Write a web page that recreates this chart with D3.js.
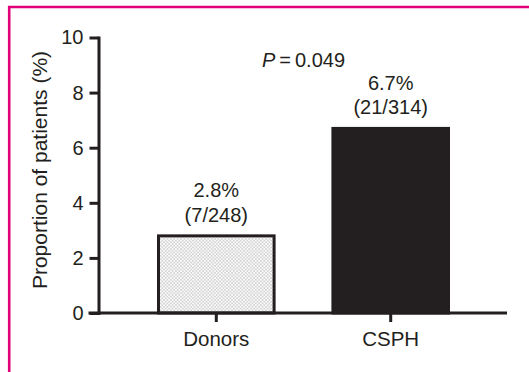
<!DOCTYPE html>
<html>
<head>
<meta charset="utf-8">
<script src="https://cdn.jsdelivr.net/npm/d3@7"></script>
<style>
  html, body { margin: 0; padding: 0; background: #fff; }
  svg { display: block; }
  text { font-family: "Liberation Sans", Arial, Helvetica, sans-serif; fill: #231f20; }
</style>
</head>
<body>
<svg id="chart" width="529" height="372"></svg>
<script>
// Patients with the outcome, by group
const categories = ["Donors", "CSPH"];
const percentValues = [2.8, 6.7];
const countLabels = ["(7/248)", "(21/314)"];
const yTickValues = [0, 2, 4, 6, 8, 10];
const pValueText = "0.049";

const W = 529, H = 372;
const ink = "#231f20";
const svg = d3.select("#chart");

// Frame lines (top and left)
svg.append("path")
  .attr("d", `M9.2,${H} V7 H${W}`)
  .attr("fill", "none")
  .attr("stroke", "#e2007a")
  .attr("stroke-width", 2.6);

// Dotted fill for the donor bar
const defs = svg.append("defs");
const pat = defs.append("pattern")
  .attr("id", "dots")
  .attr("patternUnits", "userSpaceOnUse")
  .attr("width", 3.4).attr("height", 3.4);
pat.append("rect").attr("width", 3.4).attr("height", 3.4).attr("fill", "#fbfbfb");
pat.append("circle").attr("cx", 0.85).attr("cy", 0.85).attr("r", 0.7).attr("fill", "#a4a4a4");
pat.append("circle").attr("cx", 2.55).attr("cy", 2.55).attr("r", 0.7).attr("fill", "#a4a4a4");

// Scales
const y = d3.scaleLinear().domain([0, 10]).range([313, 37.5]);
const x = d3.scaleBand().domain(categories).range([157, 450]).paddingInner(0.32).paddingOuter(0);
const axisX = 98.5;

// Bars
svg.selectAll("rect.bar")
  .data(categories)
  .join("rect")
  .attr("class", "bar")
  .attr("x", d => x(d) + 1.5)
  .attr("width", x.bandwidth() - 3)
  .attr("y", (d, i) => y(percentValues[i]))
  .attr("height", (d, i) => y(0) - y(percentValues[i]))
  .attr("fill", (d, i) => i === 0 ? "url(#dots)" : ink)
  .attr("stroke", ink)
  .attr("stroke-width", 3);

// Y axis
const gy = svg.append("g")
  .attr("transform", `translate(${axisX},0)`)
  .call(d3.axisLeft(y).tickValues(yTickValues).tickFormat(d3.format("d"))
    .tickSize(9).tickSizeOuter(0).tickPadding(6));
gy.select(".domain").attr("stroke", ink).attr("stroke-width", 3).attr("stroke-linecap", "square");
gy.selectAll(".tick line").attr("stroke", ink).attr("stroke-width", 3);
gy.selectAll(".tick text").style("font-size", "20px").attr("fill", ink);

// X axis
const gx = svg.append("g")
  .attr("transform", `translate(0,${y(0)})`)
  .call(d3.axisBottom(x).tickSize(9).tickSizeOuter(0).tickPadding(9.5));
gx.select(".domain").remove();
gx.insert("line", ":first-child")
  .attr("x1", axisX - 10).attr("x2", 507)
  .attr("y1", 0).attr("y2", 0)
  .attr("stroke", ink).attr("stroke-width", 3);
gx.selectAll(".tick line").attr("stroke", ink).attr("stroke-width", 3);
gx.selectAll(".tick text").style("font-size", "20.5px").attr("fill", ink);

// Y axis title
svg.append("text")
  .attr("transform", `translate(47,170) rotate(-90)`)
  .attr("text-anchor", "middle")
  .style("font-size", "21px")
  .text("Proportion of patients (%)");

// Value labels above bars
const labels = svg.selectAll("g.vlabel")
  .data(categories)
  .join("g")
  .attr("class", "vlabel")
  .attr("transform", (d, i) => `translate(${x(d) + x.bandwidth() / 2},${y(percentValues[i]) - 14})`);
labels.append("text")
  .attr("text-anchor", "middle")
  .attr("y", -24.5)
  .style("font-size", "20px")
  .text((d, i) => percentValues[i].toFixed(1) + "%");
labels.append("text")
  .attr("text-anchor", "middle")
  .style("font-size", "20px")
  .text((d, i) => countLabels[i]);

// Significance between groups
const midX = (x(categories[0]) + x(categories[1]) + x.bandwidth()) / 2;
const pText = svg.append("text")
  .attr("x", midX)
  .attr("y", 67)
  .attr("text-anchor", "middle")
  .style("font-size", "20px");
pText.append("tspan").style("font-style", "italic").text("P");
pText.append("tspan").text("\u2009=\u2009" + pValueText);
</script>
</body>
</html>
